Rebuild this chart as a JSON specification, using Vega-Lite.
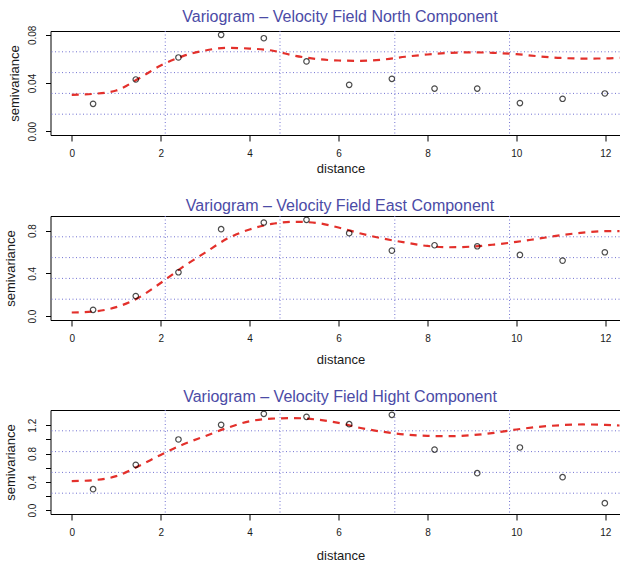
{
  "$schema": "https://vega.github.io/schema/vega-lite/v6.json",
  "padding": {"left": 3.5, "top": 9, "right": 0, "bottom": 0},
  "background": "white",
  "spacing": 21,
  "config": {
    "font": "Liberation Sans",
    "view": {"stroke": null},
    "axis": {
      "labelFontSize": 10, "titleFontSize": 13, "labelColor": "#1a1a1a", "titleColor": "#1a1a1a",
      "titleFontWeight": "normal", "tickColor": "#000", "domainColor": "#000", "grid": false,
      "labelFlush": false, "labelOverlap": false, "labelBound": false
    },
    "title": {"fontSize": 16, "fontWeight": "normal", "color": "#4b4ba6", "frame": "group", "anchor": "middle", "baseline": "alphabetic", "dx": 5}
  },
  "datasets": {
    "pts": [
      {"panel": "N", "d": 0.48, "g": 0.0227}, {"panel": "N", "d": 1.44, "g": 0.0429}, {"panel": "N", "d": 2.40, "g": 0.0612},
      {"panel": "N", "d": 3.36, "g": 0.0800}, {"panel": "N", "d": 4.32, "g": 0.0772}, {"panel": "N", "d": 5.28, "g": 0.0579},
      {"panel": "N", "d": 6.24, "g": 0.0385}, {"panel": "N", "d": 7.20, "g": 0.0435}, {"panel": "N", "d": 8.16, "g": 0.0354},
      {"panel": "N", "d": 9.12, "g": 0.0354}, {"panel": "N", "d": 10.08, "g": 0.0233}, {"panel": "N", "d": 11.04, "g": 0.0269},
      {"panel": "N", "d": 11.99, "g": 0.0313},
      {"panel": "E", "d": 0.48, "g": 0.059}, {"panel": "E", "d": 1.44, "g": 0.1875}, {"panel": "E", "d": 2.40, "g": 0.41},
      {"panel": "E", "d": 3.36, "g": 0.8125}, {"panel": "E", "d": 4.32, "g": 0.875}, {"panel": "E", "d": 5.28, "g": 0.9},
      {"panel": "E", "d": 6.24, "g": 0.775}, {"panel": "E", "d": 7.20, "g": 0.6125}, {"panel": "E", "d": 8.16, "g": 0.6625},
      {"panel": "E", "d": 9.12, "g": 0.653}, {"panel": "E", "d": 10.08, "g": 0.572}, {"panel": "E", "d": 11.04, "g": 0.519},
      {"panel": "E", "d": 11.99, "g": 0.597},
      {"panel": "H", "d": 0.48, "g": 0.296}, {"panel": "H", "d": 1.44, "g": 0.64}, {"panel": "H", "d": 2.40, "g": 0.998},
      {"panel": "H", "d": 3.36, "g": 1.205}, {"panel": "H", "d": 4.32, "g": 1.36}, {"panel": "H", "d": 5.28, "g": 1.318},
      {"panel": "H", "d": 6.24, "g": 1.214}, {"panel": "H", "d": 7.20, "g": 1.346}, {"panel": "H", "d": 8.16, "g": 0.856},
      {"panel": "H", "d": 9.12, "g": 0.522}, {"panel": "H", "d": 10.08, "g": 0.885}, {"panel": "H", "d": 11.04, "g": 0.466},
      {"panel": "H", "d": 11.99, "g": 0.099}
    ],
    "curve": [
      {"panel": "N", "d": 0, "g": 0.0302}, {"panel": "N", "d": 0.5, "g": 0.031}, {"panel": "N", "d": 1, "g": 0.0338},
      {"panel": "N", "d": 1.5, "g": 0.0435}, {"panel": "N", "d": 2, "g": 0.0545}, {"panel": "N", "d": 2.5, "g": 0.0623},
      {"panel": "N", "d": 3, "g": 0.067}, {"panel": "N", "d": 3.5, "g": 0.0692}, {"panel": "N", "d": 4, "g": 0.0686},
      {"panel": "N", "d": 4.5, "g": 0.067}, {"panel": "N", "d": 5, "g": 0.0628}, {"panel": "N", "d": 5.5, "g": 0.0600},
      {"panel": "N", "d": 6, "g": 0.0587}, {"panel": "N", "d": 6.5, "g": 0.0584}, {"panel": "N", "d": 7, "g": 0.0595},
      {"panel": "N", "d": 7.5, "g": 0.0618}, {"panel": "N", "d": 8, "g": 0.0637}, {"panel": "N", "d": 8.5, "g": 0.065},
      {"panel": "N", "d": 9, "g": 0.0655}, {"panel": "N", "d": 9.5, "g": 0.065}, {"panel": "N", "d": 10, "g": 0.064},
      {"panel": "N", "d": 10.5, "g": 0.0622}, {"panel": "N", "d": 11, "g": 0.0608}, {"panel": "N", "d": 11.5, "g": 0.0603},
      {"panel": "N", "d": 12, "g": 0.0604}, {"panel": "N", "d": 12.35, "g": 0.061},
      {"panel": "E", "d": 0, "g": 0.034}, {"panel": "E", "d": 0.5, "g": 0.044}, {"panel": "E", "d": 1, "g": 0.084},
      {"panel": "E", "d": 1.5, "g": 0.172}, {"panel": "E", "d": 2, "g": 0.31}, {"panel": "E", "d": 2.5, "g": 0.46},
      {"panel": "E", "d": 3, "g": 0.594}, {"panel": "E", "d": 3.5, "g": 0.725}, {"panel": "E", "d": 4, "g": 0.81},
      {"panel": "E", "d": 4.5, "g": 0.862}, {"panel": "E", "d": 5, "g": 0.882}, {"panel": "E", "d": 5.5, "g": 0.872},
      {"panel": "E", "d": 6, "g": 0.828}, {"panel": "E", "d": 6.5, "g": 0.772}, {"panel": "E", "d": 7, "g": 0.725},
      {"panel": "E", "d": 7.5, "g": 0.688}, {"panel": "E", "d": 8, "g": 0.656}, {"panel": "E", "d": 8.5, "g": 0.644},
      {"panel": "E", "d": 9, "g": 0.65}, {"panel": "E", "d": 9.5, "g": 0.669}, {"panel": "E", "d": 10, "g": 0.694},
      {"panel": "E", "d": 10.5, "g": 0.725}, {"panel": "E", "d": 11, "g": 0.756}, {"panel": "E", "d": 11.5, "g": 0.781},
      {"panel": "E", "d": 12, "g": 0.794}, {"panel": "E", "d": 12.35, "g": 0.795},
      {"panel": "H", "d": 0, "g": 0.41}, {"panel": "H", "d": 0.5, "g": 0.424}, {"panel": "H", "d": 1, "g": 0.48},
      {"panel": "H", "d": 1.5, "g": 0.62}, {"panel": "H", "d": 2, "g": 0.78}, {"panel": "H", "d": 2.5, "g": 0.927},
      {"panel": "H", "d": 3, "g": 1.045}, {"panel": "H", "d": 3.5, "g": 1.162}, {"panel": "H", "d": 4, "g": 1.255},
      {"panel": "H", "d": 4.5, "g": 1.292}, {"panel": "H", "d": 5, "g": 1.3}, {"panel": "H", "d": 5.5, "g": 1.28},
      {"panel": "H", "d": 6, "g": 1.233}, {"panel": "H", "d": 6.5, "g": 1.16}, {"panel": "H", "d": 7, "g": 1.106},
      {"panel": "H", "d": 7.5, "g": 1.068}, {"panel": "H", "d": 8, "g": 1.049}, {"panel": "H", "d": 8.5, "g": 1.045},
      {"panel": "H", "d": 9, "g": 1.059}, {"panel": "H", "d": 9.5, "g": 1.092}, {"panel": "H", "d": 10, "g": 1.139},
      {"panel": "H", "d": 10.5, "g": 1.176}, {"panel": "H", "d": 11, "g": 1.2}, {"panel": "H", "d": 11.5, "g": 1.21},
      {"panel": "H", "d": 12, "g": 1.205}, {"panel": "H", "d": 12.35, "g": 1.195}
    ],
    "hgrid": [
      {"panel": "N", "g": 0.01408}, {"panel": "N", "g": 0.03136}, {"panel": "N", "g": 0.04864}, {"panel": "N", "g": 0.06592},
      {"panel": "E", "g": 0.1584}, {"panel": "E", "g": 0.3528}, {"panel": "E", "g": 0.5472}, {"panel": "E", "g": 0.7416},
      {"panel": "H", "g": 0.2394}, {"panel": "H", "g": 0.5331}, {"panel": "H", "g": 0.8269}, {"panel": "H", "g": 1.1206}
    ],
    "vgrid": [{"d": 2.103}, {"d": 4.684}, {"d": 7.266}, {"d": 9.847}]
  },
  "vconcat": [
    {
      "title": {"text": "Variogram – Velocity Field North Component", "offset": 0},
      "width": 569, "height": 104,
      "resolve": {"axis": {"x": "independent"}},
      "layer": [
        {"data": {"name": "vgrid"}, "mark": {"type": "rule", "color": "#7373d2", "strokeWidth": 1, "strokeDash": [1, 2.5]},
         "encoding": {"x": {"field": "d", "type": "quantitative", "scale": {"domain": [-0.478, 12.32], "nice": false, "zero": false},
           "axis": {"orient": "top", "ticks": false, "labels": false, "title": null, "domain": true}}}},
        {"data": {"name": "hgrid"}, "transform": [{"filter": "datum.panel == 'N'"}],
         "mark": {"type": "rule", "color": "#7373d2", "strokeWidth": 1, "strokeDash": [1, 2.5]},
         "encoding": {"y": {"field": "g", "type": "quantitative", "scale": {"domain": [-0.0032, 0.0832], "nice": false, "zero": false},
             "axis": {"values": [0, 0.02, 0.04, 0.06, 0.08], "title": "semivariance", "tickSize": 5, "labelPadding": 10, "labelOverlap": false,
               "labelAngle": -90, "labelAlign": "center", "labelBaseline": "alphabetic",
               "labelExpr": "indexof(['0.00','0.04','0.08'], format(datum.value, '.2f')) >= 0 ? format(datum.value, '.2f') : ''",
               "titleAngle": -90, "titleX": -32.5, "titleY": 52, "titleAlign": "center", "titleBaseline": "alphabetic", "domain": true}}}},
        {"data": {"name": "curve"}, "transform": [{"filter": "datum.panel == 'N'"}],
         "mark": {"type": "line", "color": "#e3302b", "strokeWidth": 2.2, "strokeDash": [7, 6], "interpolate": "monotone", "clip": true},
         "encoding": {"x": {"field": "d", "type": "quantitative", "axis": null}, "y": {"field": "g", "type": "quantitative"}}},
        {"data": {"name": "pts"}, "transform": [{"filter": "datum.panel == 'N'"}],
         "mark": {"type": "point", "shape": "circle", "filled": false, "color": "#000", "size": 30, "strokeWidth": 1.2},
         "encoding": {
           "x": {"field": "d", "type": "quantitative",
             "axis": {"values": [0, 2, 4, 6, 8, 10, 12], "title": "distance", "tickSize": 6, "labelPadding": 15.5, "labelBaseline": "alphabetic",
               "titleX": 290, "titleY": 37.6, "titleBaseline": "alphabetic", "titleAlign": "center", "domain": true}},
           "y": {"field": "g", "type": "quantitative"}}}
      ]
    },
    {
      "title": {"text": "Variogram – Velocity Field East Component", "offset": 1},
      "width": 569, "height": 104,
      "resolve": {"axis": {"x": "independent"}},
      "layer": [
        {"data": {"name": "vgrid"}, "mark": {"type": "rule", "color": "#7373d2", "strokeWidth": 1, "strokeDash": [1, 2.5]},
         "encoding": {"x": {"field": "d", "type": "quantitative", "scale": {"domain": [-0.478, 12.32], "nice": false, "zero": false},
           "axis": {"orient": "top", "ticks": false, "labels": false, "title": null, "domain": true}}}},
        {"data": {"name": "hgrid"}, "transform": [{"filter": "datum.panel == 'E'"}],
         "mark": {"type": "rule", "color": "#7373d2", "strokeWidth": 1, "strokeDash": [1, 2.5]},
         "encoding": {"y": {"field": "g", "type": "quantitative", "scale": {"domain": [-0.036, 0.936], "nice": false, "zero": false},
             "axis": {"values": [0, 0.2, 0.4, 0.6, 0.8], "title": "semivariance", "tickSize": 5, "labelPadding": 10, "labelOverlap": false,
               "labelAngle": -90, "labelAlign": "center", "labelBaseline": "alphabetic",
               "labelExpr": "indexof(['0.0','0.4','0.8'], format(datum.value, '.1f')) >= 0 ? format(datum.value, '.1f') : ''",
               "titleAngle": -90, "titleX": -36.5, "titleY": 52, "titleAlign": "center", "titleBaseline": "alphabetic", "domain": true}}}},
        {"data": {"name": "curve"}, "transform": [{"filter": "datum.panel == 'E'"}],
         "mark": {"type": "line", "color": "#e3302b", "strokeWidth": 2.2, "strokeDash": [7, 6], "interpolate": "monotone", "clip": true},
         "encoding": {"x": {"field": "d", "type": "quantitative", "axis": null}, "y": {"field": "g", "type": "quantitative"}}},
        {"data": {"name": "pts"}, "transform": [{"filter": "datum.panel == 'E'"}],
         "mark": {"type": "point", "shape": "circle", "filled": false, "color": "#000", "size": 30, "strokeWidth": 1.2},
         "encoding": {
           "x": {"field": "d", "type": "quantitative",
             "axis": {"values": [0, 2, 4, 6, 8, 10, 12], "title": "distance", "tickSize": 6, "labelPadding": 15.5, "labelBaseline": "alphabetic",
               "titleX": 290, "titleY": 43.3, "titleBaseline": "alphabetic", "titleAlign": "center", "domain": true}},
           "y": {"field": "g", "type": "quantitative"}}}
      ]
    },
    {
      "title": {"text": "Variogram – Velocity Field Hight Component", "offset": 4},
      "width": 569, "height": 104,
      "resolve": {"axis": {"x": "independent", "y": "independent"}},
      "layer": [
        {"data": {"name": "vgrid"}, "mark": {"type": "rule", "color": "#7373d2", "strokeWidth": 1, "strokeDash": [1, 2.5]},
         "encoding": {"x": {"field": "d", "type": "quantitative", "scale": {"domain": [-0.478, 12.32], "nice": false, "zero": false},
           "axis": {"orient": "top", "ticks": false, "labels": false, "title": null, "domain": true}}}},
        {"data": {"name": "hgrid"}, "transform": [{"filter": "datum.panel == 'H'"}],
         "mark": {"type": "rule", "color": "#7373d2", "strokeWidth": 1, "strokeDash": [1, 2.5]},
         "encoding": {"y": {"field": "g", "type": "quantitative", "scale": {"domain": [-0.0544, 1.4144], "nice": false, "zero": false},
             "axis": {"orient": "left", "values": [0, 0.4, 0.8, 1.2], "format": ".1f", "title": "semivariance", "tickSize": 5, "labelPadding": 10, "labelOverlap": false,
               "labelAngle": -90, "labelAlign": "center", "labelBaseline": "alphabetic",
               "titleAngle": -90, "titleX": -36.5, "titleY": 52, "titleAlign": "center", "titleBaseline": "alphabetic", "domain": true}}}},
        {"data": {"name": "curve"}, "transform": [{"filter": "datum.panel == 'H'"}],
         "mark": {"type": "line", "color": "#e3302b", "strokeWidth": 2.2, "strokeDash": [7, 6], "interpolate": "monotone", "clip": true},
         "encoding": {"x": {"field": "d", "type": "quantitative", "axis": null}, "y": {"field": "g", "type": "quantitative", "axis": null}}},
        {"data": {"name": "pts"}, "transform": [{"filter": "datum.panel == 'H'"}],
         "mark": {"type": "point", "shape": "circle", "filled": false, "color": "#000", "size": 30, "strokeWidth": 1.2},
         "encoding": {
           "x": {"field": "d", "type": "quantitative",
             "axis": {"values": [0, 2, 4, 6, 8, 10, 12], "title": "distance", "tickSize": 6, "labelPadding": 15.5, "labelBaseline": "alphabetic",
               "titleX": 290, "titleY": 45.3, "titleBaseline": "alphabetic", "titleAlign": "center", "domain": true}},
           "y": {"field": "g", "type": "quantitative",
             "axis": {"orient": "left", "values": [0.2, 0.6, 1.0], "labels": false, "title": null, "tickSize": 5, "domain": false, "offset": 0}}}}
      ]
    }
  ]
}
